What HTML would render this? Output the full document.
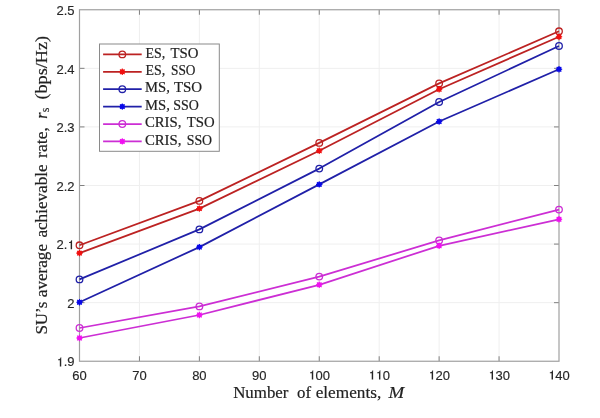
<!DOCTYPE html>
<html><head><meta charset="utf-8"><style>
html,body{margin:0;padding:0;background:#fff;}
body{width:600px;height:418px;overflow:hidden;}
svg{display:block;}
#w{width:600px;height:418px;will-change:transform;}
.t{font-family:"Liberation Sans",sans-serif;font-size:13px;fill:#262626;stroke:#262626;stroke-width:0.15px;}
.s{font-family:"Liberation Serif",serif;fill:#222;stroke:#222;stroke-width:0.18px;}
</style></head><body>
<div id="w"><svg width="600" height="418" viewBox="0 0 600 418">
<rect width="600" height="418" fill="#fff"/>

<path d="M139.44 9.75V361.25M199.38 9.75V361.25M259.31 9.75V361.25M319.25 9.75V361.25M379.19 9.75V361.25M439.12 9.75V361.25M499.06 9.75V361.25M79.50 302.67H559.00M79.50 244.08H559.00M79.50 185.50H559.00M79.50 126.92H559.00M79.50 68.33H559.00" stroke="#efefef" stroke-width="1" fill="none"/>
<path d="M139.44 361.25V356.25M139.44 9.75V14.75M199.38 361.25V356.25M199.38 9.75V14.75M259.31 361.25V356.25M259.31 9.75V14.75M319.25 361.25V356.25M319.25 9.75V14.75M379.19 361.25V356.25M379.19 9.75V14.75M439.12 361.25V356.25M439.12 9.75V14.75M499.06 361.25V356.25M499.06 9.75V14.75M79.50 302.67H84.50M559.00 302.67H554.00M79.50 244.08H84.50M559.00 244.08H554.00M79.50 185.50H84.50M559.00 185.50H554.00M79.50 126.92H84.50M559.00 126.92H554.00M79.50 68.33H84.50M559.00 68.33H554.00" stroke="#808080" stroke-width="1" fill="none"/>
<rect x="79.50" y="9.75" width="479.50" height="351.50" fill="none" stroke="#a0a0a0" stroke-width="1.2"/>
<text class="t" x="79.50" y="379.5" text-anchor="middle">60</text>
<text class="t" x="139.44" y="379.5" text-anchor="middle">70</text>
<text class="t" x="199.38" y="379.5" text-anchor="middle">80</text>
<text class="t" x="259.31" y="379.5" text-anchor="middle">90</text>
<text class="t" x="319.25" y="379.5" text-anchor="middle"> 00</text>
<text class="t" x="379.19" y="379.5" text-anchor="middle">  0</text>
<text class="t" x="439.12" y="379.5" text-anchor="middle"> 20</text>
<text class="t" x="499.06" y="379.5" text-anchor="middle"> 30</text>
<text class="t" x="559.00" y="379.5" text-anchor="middle"> 40</text>
<text class="t" x="74.5" y="366.45" text-anchor="end"> .9</text>
<text class="t" x="74.5" y="307.87" text-anchor="end">2</text>
<text class="t" x="74.5" y="249.28" text-anchor="end">2. </text>
<text class="t" x="74.5" y="190.70" text-anchor="end">2.2</text>
<text class="t" x="74.5" y="132.12" text-anchor="end">2.3</text>
<text class="t" x="74.5" y="73.53" text-anchor="end">2.4</text>
<text class="t" x="74.5" y="14.95" text-anchor="end">2.5</text>
<path d="M313.22 379.50V370.28H312.70C312.31 371.80 311.61 372.20 310.11 372.35V373.20H311.81V379.50ZM373.15 379.50V370.28H372.63C372.24 371.80 371.54 372.20 370.04 372.35V373.20H371.74V379.50ZM380.38 379.50V370.28H379.86C379.47 371.80 378.77 372.20 377.27 372.35V373.20H378.97V379.50ZM433.09 379.50V370.28H432.57C432.18 371.80 431.48 372.20 429.98 372.35V373.20H431.68V379.50ZM493.03 379.50V370.28H492.51C492.12 371.80 491.42 372.20 489.92 372.35V373.20H491.62V379.50ZM552.97 379.50V370.28H552.45C552.06 371.80 551.36 372.20 549.86 372.35V373.20H551.56V379.50ZM61.24 366.45V357.23H60.72C60.33 358.75 59.63 359.15 58.13 359.30V360.15H59.83V366.45ZM72.08 249.28V240.06H71.56C71.17 241.58 70.47 241.98 68.97 242.13V242.98H70.67V249.28Z" fill="#262626"/>
<polyline points="79.50,245.30 199.38,200.90 319.25,142.90 439.12,83.40 559.00,31.30" fill="none" stroke="#bc2222" stroke-width="1.75" stroke-linejoin="round"/>
<circle cx="79.50" cy="245.30" r="3.3" fill="none" stroke="#bc2222" stroke-width="1.3"/>
<circle cx="199.38" cy="200.90" r="3.3" fill="none" stroke="#bc2222" stroke-width="1.3"/>
<circle cx="319.25" cy="142.90" r="3.3" fill="none" stroke="#bc2222" stroke-width="1.3"/>
<circle cx="439.12" cy="83.40" r="3.3" fill="none" stroke="#bc2222" stroke-width="1.3"/>
<circle cx="559.00" cy="31.30" r="3.3" fill="none" stroke="#bc2222" stroke-width="1.3"/>
<polyline points="79.50,253.10 199.38,208.60 319.25,150.80 439.12,89.30 559.00,36.70" fill="none" stroke="#bc2222" stroke-width="1.75" stroke-linejoin="round"/>
<path d="M76.30 253.10H82.70M79.50 249.90V256.30M77.20 250.80L81.80 255.40M77.20 255.40L81.80 250.80" stroke="#f01010" stroke-width="1.1" fill="none"/><circle cx="79.50" cy="253.10" r="2.5" fill="#f01010"/>
<path d="M196.18 208.60H202.57M199.38 205.40V211.80M197.07 206.30L201.68 210.90M197.07 210.90L201.68 206.30" stroke="#f01010" stroke-width="1.1" fill="none"/><circle cx="199.38" cy="208.60" r="2.5" fill="#f01010"/>
<path d="M316.05 150.80H322.45M319.25 147.60V154.00M316.95 148.50L321.55 153.10M316.95 153.10L321.55 148.50" stroke="#f01010" stroke-width="1.1" fill="none"/><circle cx="319.25" cy="150.80" r="2.5" fill="#f01010"/>
<path d="M435.93 89.30H442.32M439.12 86.10V92.50M436.82 87.00L441.43 91.60M436.82 91.60L441.43 87.00" stroke="#f01010" stroke-width="1.1" fill="none"/><circle cx="439.12" cy="89.30" r="2.5" fill="#f01010"/>
<path d="M555.80 36.70H562.20M559.00 33.50V39.90M556.70 34.40L561.30 39.00M556.70 39.00L561.30 34.40" stroke="#f01010" stroke-width="1.1" fill="none"/><circle cx="559.00" cy="36.70" r="2.5" fill="#f01010"/>
<polyline points="79.50,279.40 199.38,229.40 319.25,168.60 439.12,102.00 559.00,46.00" fill="none" stroke="#2020a8" stroke-width="1.75" stroke-linejoin="round"/>
<circle cx="79.50" cy="279.40" r="3.3" fill="none" stroke="#2020a8" stroke-width="1.3"/>
<circle cx="199.38" cy="229.40" r="3.3" fill="none" stroke="#2020a8" stroke-width="1.3"/>
<circle cx="319.25" cy="168.60" r="3.3" fill="none" stroke="#2020a8" stroke-width="1.3"/>
<circle cx="439.12" cy="102.00" r="3.3" fill="none" stroke="#2020a8" stroke-width="1.3"/>
<circle cx="559.00" cy="46.00" r="3.3" fill="none" stroke="#2020a8" stroke-width="1.3"/>
<polyline points="79.50,302.20 199.38,247.10 319.25,184.40 439.12,121.50 559.00,69.30" fill="none" stroke="#2020a8" stroke-width="1.75" stroke-linejoin="round"/>
<path d="M76.30 302.20H82.70M79.50 299.00V305.40M77.20 299.90L81.80 304.50M77.20 304.50L81.80 299.90" stroke="#0808e8" stroke-width="1.1" fill="none"/><circle cx="79.50" cy="302.20" r="2.5" fill="#0808e8"/>
<path d="M196.18 247.10H202.57M199.38 243.90V250.30M197.07 244.80L201.68 249.40M197.07 249.40L201.68 244.80" stroke="#0808e8" stroke-width="1.1" fill="none"/><circle cx="199.38" cy="247.10" r="2.5" fill="#0808e8"/>
<path d="M316.05 184.40H322.45M319.25 181.20V187.60M316.95 182.10L321.55 186.70M316.95 186.70L321.55 182.10" stroke="#0808e8" stroke-width="1.1" fill="none"/><circle cx="319.25" cy="184.40" r="2.5" fill="#0808e8"/>
<path d="M435.93 121.50H442.32M439.12 118.30V124.70M436.82 119.20L441.43 123.80M436.82 123.80L441.43 119.20" stroke="#0808e8" stroke-width="1.1" fill="none"/><circle cx="439.12" cy="121.50" r="2.5" fill="#0808e8"/>
<path d="M555.80 69.30H562.20M559.00 66.10V72.50M556.70 67.00L561.30 71.60M556.70 71.60L561.30 67.00" stroke="#0808e8" stroke-width="1.1" fill="none"/><circle cx="559.00" cy="69.30" r="2.5" fill="#0808e8"/>
<polyline points="79.50,328.00 199.38,306.40 319.25,276.60 439.12,240.40 559.00,209.60" fill="none" stroke="#cc2ed4" stroke-width="1.75" stroke-linejoin="round"/>
<circle cx="79.50" cy="328.00" r="3.3" fill="none" stroke="#cc2ed4" stroke-width="1.3"/>
<circle cx="199.38" cy="306.40" r="3.3" fill="none" stroke="#cc2ed4" stroke-width="1.3"/>
<circle cx="319.25" cy="276.60" r="3.3" fill="none" stroke="#cc2ed4" stroke-width="1.3"/>
<circle cx="439.12" cy="240.40" r="3.3" fill="none" stroke="#cc2ed4" stroke-width="1.3"/>
<circle cx="559.00" cy="209.60" r="3.3" fill="none" stroke="#cc2ed4" stroke-width="1.3"/>
<polyline points="79.50,338.00 199.38,315.00 319.25,284.80 439.12,245.80 559.00,219.30" fill="none" stroke="#cc2ed4" stroke-width="1.75" stroke-linejoin="round"/>
<path d="M76.30 338.00H82.70M79.50 334.80V341.20M77.20 335.70L81.80 340.30M77.20 340.30L81.80 335.70" stroke="#f010f0" stroke-width="1.1" fill="none"/><circle cx="79.50" cy="338.00" r="2.5" fill="#f010f0"/>
<path d="M196.18 315.00H202.57M199.38 311.80V318.20M197.07 312.70L201.68 317.30M197.07 317.30L201.68 312.70" stroke="#f010f0" stroke-width="1.1" fill="none"/><circle cx="199.38" cy="315.00" r="2.5" fill="#f010f0"/>
<path d="M316.05 284.80H322.45M319.25 281.60V288.00M316.95 282.50L321.55 287.10M316.95 287.10L321.55 282.50" stroke="#f010f0" stroke-width="1.1" fill="none"/><circle cx="319.25" cy="284.80" r="2.5" fill="#f010f0"/>
<path d="M435.93 245.80H442.32M439.12 242.60V249.00M436.82 243.50L441.43 248.10M436.82 248.10L441.43 243.50" stroke="#f010f0" stroke-width="1.1" fill="none"/><circle cx="439.12" cy="245.80" r="2.5" fill="#f010f0"/>
<path d="M555.80 219.30H562.20M559.00 216.10V222.50M556.70 217.00L561.30 221.60M556.70 221.60L561.30 217.00" stroke="#f010f0" stroke-width="1.1" fill="none"/><circle cx="559.00" cy="219.30" r="2.5" fill="#f010f0"/>
<rect x="99.5" y="44.0" width="119.80" height="107.30" fill="#fff" stroke="#8a8a8a" stroke-width="1"/>
<path d="M103.1 54.4H141.7" stroke="#bc2222" stroke-width="1.75"/>
<circle cx="122.30" cy="54.40" r="3.3" fill="none" stroke="#bc2222" stroke-width="1.3"/>
<text class="s" x="145.50" y="57.50" font-size="14" textLength="19.70" lengthAdjust="spacingAndGlyphs">ES,</text>
<text class="s" x="170.50" y="57.50" font-size="14" textLength="28.00" lengthAdjust="spacingAndGlyphs">TSO</text>
<path d="M103.1 71.8H141.7" stroke="#bc2222" stroke-width="1.75"/>
<path d="M119.10 71.80H125.50M122.30 68.60V75.00M120.00 69.50L124.60 74.10M120.00 74.10L124.60 69.50" stroke="#f01010" stroke-width="1.1" fill="none"/><circle cx="122.30" cy="71.80" r="2.5" fill="#f01010"/>
<text class="s" x="145.50" y="74.90" font-size="14" textLength="19.70" lengthAdjust="spacingAndGlyphs">ES,</text>
<text class="s" x="171.00" y="74.90" font-size="14" textLength="24.50" lengthAdjust="spacingAndGlyphs">SSO</text>
<path d="M103.1 89.2H141.7" stroke="#2020a8" stroke-width="1.75"/>
<circle cx="122.30" cy="89.20" r="3.3" fill="none" stroke="#2020a8" stroke-width="1.3"/>
<text class="s" x="145.10" y="92.30" font-size="14" textLength="24.80" lengthAdjust="spacingAndGlyphs">MS,</text>
<text class="s" x="173.90" y="92.30" font-size="14" textLength="28.30" lengthAdjust="spacingAndGlyphs">TSO</text>
<path d="M103.1 106.6H141.7" stroke="#2020a8" stroke-width="1.75"/>
<path d="M119.10 106.60H125.50M122.30 103.40V109.80M120.00 104.30L124.60 108.90M120.00 108.90L124.60 104.30" stroke="#0808e8" stroke-width="1.1" fill="none"/><circle cx="122.30" cy="106.60" r="2.5" fill="#0808e8"/>
<text class="s" x="145.10" y="109.70" font-size="14" textLength="24.80" lengthAdjust="spacingAndGlyphs">MS,</text>
<text class="s" x="173.20" y="109.70" font-size="14" textLength="25.60" lengthAdjust="spacingAndGlyphs">SSO</text>
<path d="M103.1 124.0H141.7" stroke="#cc2ed4" stroke-width="1.75"/>
<circle cx="122.30" cy="124.00" r="3.3" fill="none" stroke="#cc2ed4" stroke-width="1.3"/>
<text class="s" x="144.90" y="127.10" font-size="14" textLength="36.50" lengthAdjust="spacingAndGlyphs">CRIS,</text>
<text class="s" x="186.70" y="127.10" font-size="14" textLength="27.90" lengthAdjust="spacingAndGlyphs">TSO</text>
<path d="M103.1 141.4H141.7" stroke="#cc2ed4" stroke-width="1.75"/>
<path d="M119.10 141.40H125.50M122.30 138.20V144.60M120.00 139.10L124.60 143.70M120.00 143.70L124.60 139.10" stroke="#f010f0" stroke-width="1.1" fill="none"/><circle cx="122.30" cy="141.40" r="2.5" fill="#f010f0"/>
<text class="s" x="144.90" y="144.50" font-size="14" textLength="36.50" lengthAdjust="spacingAndGlyphs">CRIS,</text>
<text class="s" x="186.70" y="144.50" font-size="14" textLength="25.40" lengthAdjust="spacingAndGlyphs">SSO</text>
<text class="s" x="233.20" y="398.3" font-size="16.3" textLength="55.30" lengthAdjust="spacingAndGlyphs">Number</text>
<text class="s" x="297.00" y="398.3" font-size="16.3" textLength="14.00" lengthAdjust="spacingAndGlyphs">of</text>
<text class="s" x="315.70" y="398.3" font-size="16.3" textLength="65.50" lengthAdjust="spacingAndGlyphs">elements,</text>
<text class="s" x="388.50" y="398.3" font-size="16.3" font-style="italic" textLength="15.70" lengthAdjust="spacingAndGlyphs">M</text>
<text class="s" transform="translate(46.5,0) rotate(-90)" x="-334.60" y="0" font-size="16" textLength="33.00" lengthAdjust="spacingAndGlyphs">SU’s</text>
<text class="s" transform="translate(46.5,0) rotate(-90)" x="-297.20" y="0" font-size="16" textLength="53.20" lengthAdjust="spacingAndGlyphs">average</text>
<text class="s" transform="translate(46.5,0) rotate(-90)" x="-237.60" y="0" font-size="16" textLength="73.20" lengthAdjust="spacingAndGlyphs">achievable</text>
<text class="s" transform="translate(46.5,0) rotate(-90)" x="-157.90" y="0" font-size="16" textLength="30.90" lengthAdjust="spacingAndGlyphs">rate,</text>
<text class="s" transform="translate(46.5,0) rotate(-90)" x="-118.70" y="0" font-size="16" font-style="italic" textLength="6.20" lengthAdjust="spacingAndGlyphs">r</text>
<text class="s" transform="translate(46.5,0) rotate(-90)" x="-112.30" y="2.9" font-size="12" textLength="4.60" lengthAdjust="spacingAndGlyphs">s</text>
<text class="s" transform="translate(46.5,0) rotate(-90)" x="-99.60" y="0" font-size="16" textLength="63.70" lengthAdjust="spacingAndGlyphs">(bps/Hz)</text>
</svg></div>
</body></html>
